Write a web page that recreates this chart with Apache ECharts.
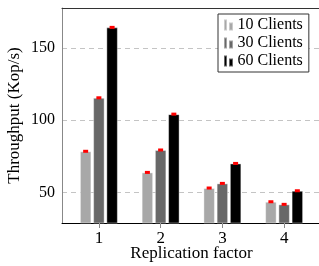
<!DOCTYPE html>
<html>
<head>
<meta charset="utf-8">
<script src="https://cdn.jsdelivr.net/npm/echarts@6/dist/echarts.min.js"></script>
<style>
  html, body { margin: 0; padding: 0; background: #fff; }
  #main { width: 319px; height: 266px; }
</style>
</head>
<body>
<div id="main"></div>
<script>
// replication factor on x, throughput (Kop/s) on y
var categories = ['1', '2', '3', '4'];
var clients10 = [78.4, 63.8, 53.0, 43.5];
var clients30 = [115.4, 79.3, 56.2, 41.7];
var clients60 = [164.1, 104.1, 70.0, 51.1];
var yTicks = [50, 100, 150];

var FONT = '"Liberation Serif", "DejaVu Serif", serif';
var legendIcon = 'path://M0,0 L3,0 L3,11 L0,11 Z M5,3 L9,3 L9,11 L5,11 Z';

function errMarks(vals){
    return {
        symbol: 'rect',
        symbolSize: [5, 3],
        itemStyle: { color: '#ff0000' },
        label: { show: false },
        silent: true,
        data: vals.map(function(v, i){ return { coord: [categories[i], v], value: v }; })
    };
}

function barSeries(name, vals, color){
    return {
        name: name,
        type: 'bar',
        xAxisIndex: 0,
        yAxisIndex: 0,
        barWidth: 11.5,
        barGap: '15%',
        data: vals,
        itemStyle: { color: color, borderColor: 'rgba(255,255,255,0.4)', borderWidth: 1 },
        markPoint: errMarks(vals)
    };
}

var myChart = echarts.init(document.getElementById('main'));

var option = {
    animation: false,
    textStyle: { fontFamily: FONT, color: '#000' },
    grid: [
        { left: 68, right: 4, top: 8, bottom: 43, outerBoundsMode: 'none' },   // bars
        { left: 62, right: 0, top: 8, bottom: 43, outerBoundsMode: 'none' }    // frame, labels, grid lines
    ],
    legend: {
        orient: 'vertical',
        left: 218,
        top: 14,
        padding: [3, 6, 3, 5],
        itemGap: 2,
        itemWidth: 10,
        itemHeight: 11,
        icon: legendIcon,
        borderColor: '#333',
        borderWidth: 1,
        backgroundColor: '#fff',
        textStyle: { fontFamily: FONT, fontSize: 16, color: '#000', padding: [0, 0, 0, -1] },
        data: ['10 Clients', '30 Clients', '60 Clients']
    },
    xAxis: [
        {
            type: 'category',
            gridIndex: 0,
            data: categories,
            axisLine: { show: false },
            axisTick: { show: true, alignWithLabel: true, length: 5, lineStyle: { color: '#888' } },
            axisLabel: { fontFamily: FONT, fontSize: 17, color: '#000', margin: 7 },
            name: 'Replication factor',
            nameLocation: 'middle',
            nameGap: 22,
            nameMoveOverlap: false,
            nameTextStyle: { fontFamily: FONT, fontSize: 17, color: '#000' }
        },
        {
            type: 'value',
            gridIndex: 1,
            min: 0, max: 1,
            axisLine: { show: true, onZero: false, lineStyle: { color: '#000', width: 1 } },
            axisTick: { show: false },
            axisLabel: { show: false },
            splitLine: { show: false }
        },
        {
            type: 'value',
            gridIndex: 1,
            position: 'top',
            min: 0, max: 1,
            axisLine: { show: true, onZero: false, lineStyle: { color: '#333', width: 1 } },
            axisTick: { show: false },
            axisLabel: { show: false },
            splitLine: { show: false }
        }
    ],
    yAxis: [
        {
            type: 'value',
            gridIndex: 0,
            min: 28.8,
            max: 177.5,
            show: false,
            splitLine: { show: false }
        },
        {
            type: 'value',
            gridIndex: 1,
            min: 28.8,
            max: 177.5,
            axisLine: { show: true, lineStyle: { color: '#888' } },
            axisTick: { show: false, customValues: yTicks },
            axisLabel: { fontFamily: FONT, fontSize: 16, color: '#000', margin: 7, customValues: yTicks },
            splitLine: { show: true, lineStyle: { color: '#c4c4c4', type: [5, 4] } },
            name: 'Throughput (Kop/s)',
            nameLocation: 'middle',
            nameGap: 39,
            nameMoveOverlap: false,
            nameTextStyle: { fontFamily: FONT, fontSize: 17, color: '#000' }
        }
    ],
    series: [
        barSeries('10 Clients', clients10, '#a8a8a8'),
        barSeries('30 Clients', clients30, '#686868'),
        barSeries('60 Clients', clients60, '#000000')
    ]
};

myChart.setOption(option);
</script>
</body>
</html>
